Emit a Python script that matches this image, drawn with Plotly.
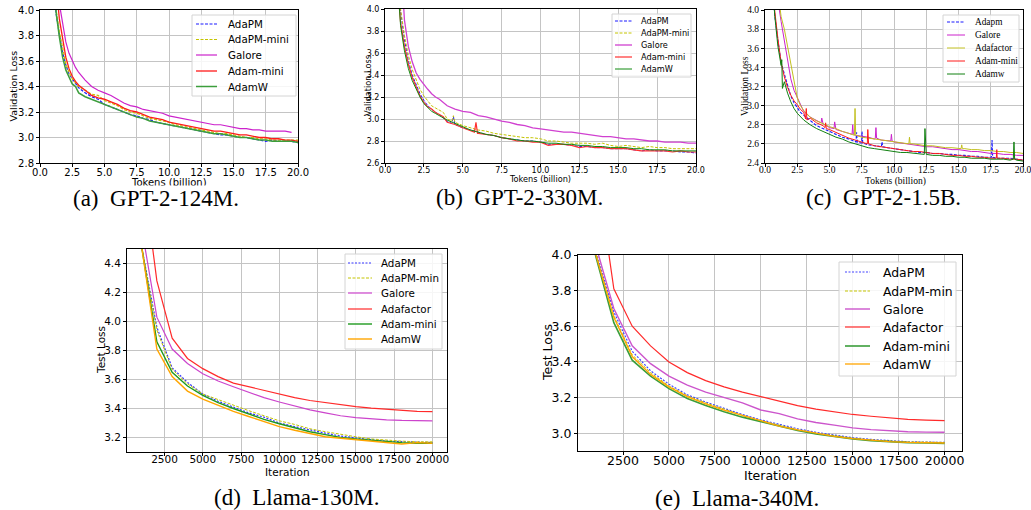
import plotly.graph_objects as go

W, H = 1031, 510

# ----------------------------- DATA -----------------------------
# (a) GPT-2-124M
TOK_A = [1.0, 1.25, 1.5, 1.75, 2.0, 2.25, 2.5, 2.75, 3.0, 3.5, 4.0, 4.5, 5.0, 5.5, 6.0, 6.5, 7.0, 7.5,
         8.0, 8.5, 9.0, 9.5, 10.0, 10.5, 11.0, 11.5, 12.0, 12.5, 13.0, 13.5, 14.0, 14.5, 15.0, 15.5,
         16.0, 16.5, 17.0, 17.5, 18.0, 18.5, 19.0, 19.5, 20.0]
A_ADAPM = [4.25, 3.97, 3.81, 3.67, 3.57, 3.50, 3.46, 3.42, 3.39, 3.35, 3.32, 3.30, 3.26, 3.24, 3.22, 3.20,
           3.18, 3.17, 3.15, 3.14, 3.12, 3.11, 3.10, 3.09, 3.08, 3.07, 3.06, 3.05, 3.04, 3.03, 3.02, 3.02,
           3.01, 3.00, 3.00, 2.99, 2.98, 2.97, 2.98, 2.97, 2.97, 2.97, 2.96]
A_ADAPM_MINI = [4.30, 4.00, 3.83, 3.69, 3.58, 3.51, 3.46, 3.43, 3.40, 3.37, 3.34, 3.33, 3.29, 3.27, 3.25,
                3.22, 3.20, 3.19, 3.17, 3.15, 3.14, 3.13, 3.12, 3.10, 3.09, 3.08, 3.07, 3.06, 3.05, 3.04,
                3.03, 3.03, 3.02, 3.01, 3.00, 3.00, 2.99, 2.99, 2.98, 2.98, 2.98, 2.98, 2.98]
A_GALORE = [4.80, 4.30, 4.05, 3.88, 3.75, 3.66, 3.60, 3.55, 3.51, 3.45, 3.40, 3.37, 3.35, 3.33, 3.30, 3.27,
            3.25, 3.24, 3.22, 3.21, 3.20, 3.19, 3.17, 3.16, 3.15, 3.14, 3.13, 3.12, 3.11, 3.10, 3.10, 3.09,
            3.08, 3.07, 3.07, 3.06, 3.06, 3.05, 3.05, 3.05, 3.05, 3.04, None]
A_ADAM_MINI = [4.60, 4.20, 3.93, 3.76, 3.63, 3.54, 3.48, 3.44, 3.41, 3.37, 3.33, 3.31, 3.30, 3.28, 3.26,
               3.23, 3.21, 3.20, 3.18, 3.16, 3.15, 3.14, 3.12, 3.11, 3.10, 3.09, 3.08, 3.07, 3.06, 3.05,
               3.05, 3.04, 3.03, 3.02, 3.02, 3.01, 3.00, 3.00, 2.99, 2.99, 2.98, 2.98, 2.97]
A_ADAMW = [4.30, 3.98, 3.79, 3.63, 3.53, 3.47, 3.42, 3.40, 3.35, 3.32, 3.30, 3.28, 3.26, 3.24, 3.22, 3.20,
           3.18, 3.16, 3.15, 3.13, 3.12, 3.11, 3.10, 3.09, 3.08, 3.07, 3.06, 3.05, 3.04, 3.03, 3.03, 3.02,
           3.01, 3.00, 3.00, 2.99, 2.98, 2.98, 2.97, 2.97, 2.97, 2.97, 2.96]

# (b) GPT-2-330M
TOK_B = [0.75, 1.0, 1.25, 1.5, 1.75, 2.0, 2.25, 2.5, 2.75, 3.0, 3.25, 3.5, 3.75, 4.0, 4.5, 5.0, 5.5, 6.0,
         6.5, 7.0, 7.5, 8.0, 8.5, 9.0, 9.5, 10.0, 10.5, 11.0, 11.5, 12.0, 12.5, 13.0, 13.5, 14.0, 14.5,
         15.0, 15.5, 16.0, 16.5, 17.0, 17.5, 18.0, 18.5, 19.0, 19.5, 20.0]
B_ADAPM = [4.50, 3.98, 3.72, 3.53, 3.40, 3.31, 3.23, 3.17, 3.12, 3.09, 3.06, 3.04, 3.01, 2.98, 2.95, 2.92,
           2.90, 2.88, 2.86, 2.85, 2.83, 2.82, 2.81, 2.80, 2.80, 2.79, 2.77, 2.77, 2.77, 2.76, 2.75, 2.75,
           2.74, 2.74, 2.73, 2.73, 2.73, 2.72, 2.71, 2.72, 2.71, 2.71, 2.71, 2.70, 2.70, 2.69]
B_ADAPM_SPIKE_X = [4.3, 4.4]
B_ADAPM_SPIKE_Y = [2.96, 3.02]
B_ADAPM_MINI = [4.50, 4.00, 3.76, 3.58, 3.45, 3.35, 3.27, 3.21, 3.16, 3.12, 3.10, 3.08, 3.06, 3.00, 2.97,
                2.94, 2.92, 2.90, 2.89, 2.87, 2.86, 2.85, 2.84, 2.83, 2.83, 2.82, 2.80, 2.80, 2.79, 2.78,
                2.78, 2.78, 2.77, 2.78, 2.76, 2.75, 2.76, 2.75, 2.74, 2.75, 2.74, 2.74, 2.73, 2.73, 2.73, 2.73]
B_ADAPM_MINI_SPIKE_X = [4.3, 4.4]
B_ADAPM_MINI_SPIKE_Y = [2.98, 3.03]
B_GALORE = [5.00, 4.50, 3.90, 3.66, 3.52, 3.42, 3.36, 3.31, 3.27, 3.23, 3.20, 3.18, 3.15, 3.12, 3.09, 3.07,
            3.06, 3.03, 3.02, 3.00, 2.98, 2.97, 2.95, 2.94, 2.92, 2.91, 2.90, 2.89, 2.88, 2.88, 2.87, 2.86,
            2.85, 2.84, 2.84, 2.83, 2.82, 2.82, 2.81, 2.80, 2.80, 2.79, 2.79, 2.79, 2.78, 2.78]
B_ADAM_MINI = [4.30, 3.88, 3.66, 3.50, 3.38, 3.29, 3.21, 3.15, 3.11, 3.09, 3.06, 3.04, 3.02, 2.97, 2.95,
               2.92, 2.89, 2.87, 2.86, 2.85, 2.83, 2.82, 2.80, 2.80, 2.79, 2.79, 2.76, 2.77, 2.77, 2.76,
               2.74, 2.75, 2.74, 2.74, 2.73, 2.73, 2.73, 2.72, 2.71, 2.71, 2.71, 2.71, 2.70, 2.71, 2.70, 2.70]
B_ADAM_MINI_SPIKE_X = [5.75, 5.85, 5.95]
B_ADAM_MINI_SPIKE_Y = [2.88, 2.97, 2.87]
B_ADAMW = [4.40, 3.85, 3.62, 3.46, 3.35, 3.27, 3.20, 3.14, 3.10, 3.07, 3.05, 3.03, 3.01, 2.99, 2.96, 2.93,
           2.90, 2.88, 2.86, 2.85, 2.83, 2.82, 2.81, 2.80, 2.80, 2.79, 2.78, 2.78, 2.77, 2.77, 2.76, 2.76,
           2.75, 2.75, 2.74, 2.74, 2.74, 2.73, 2.73, 2.72, 2.72, 2.72, 2.71, 2.71, 2.71, 2.71]

# (c) GPT-2-1.5B
TOK_C = [0.6, 0.75, 1.0, 1.25, 1.5, 1.75, 2.0, 2.25, 2.5, 2.75, 3.0, 3.5, 4.0, 4.5, 5.0, 5.5, 6.0, 6.5,
         7.0, 7.5, 8.0, 8.5, 9.0, 9.5, 10.0, 10.5, 11.0, 11.5, 12.0, 12.5, 13.0, 13.5, 14.0, 14.5, 15.0,
         15.5, 16.0, 16.5, 17.0, 17.5, 18.0, 18.5, 19.0, 19.5, 20.0]
C_ADAPM = [4.30, 3.95, 3.68, 3.45, 3.33, 3.20, 3.10, 3.03, 2.98, 2.93, 2.90, 2.84, 2.79, 2.76, 2.73, 2.70,
           2.67, 2.65, 2.63, 2.61, 2.59, 2.58, 2.57, 2.56, 2.55, 2.54, 2.53, 2.52, 2.51, 2.51, 2.50, 2.50,
           2.49, 2.49, 2.48, 2.48, 2.47, 2.47, 2.46, 2.46, 2.45, 2.45, 2.45, 2.44, 2.43]
C_ADAPM_SPIKE_X = [7.05, 7.1, 7.15, 7.45, 7.52, 7.58, 9.02, 9.07, 9.12, 17.55, 17.6, 17.65]
C_ADAPM_SPIKE_Y = [2.62, 2.72, 2.62, 2.61, 2.73, 2.61, 2.57, 2.62, 2.57, 2.46, 2.64, 2.46]
C_GALORE = [None, 4.50, 4.10, 3.88, 3.68, 3.45, 3.28, 3.16, 3.08, 3.00, 2.94, 2.88, 2.84, 2.81, 2.77, 2.75,
            2.73, 2.71, 2.69, 2.68, 2.67, 2.65, 2.64, 2.63, 2.62, 2.61, 2.60, 2.59, 2.58, 2.57, 2.57, 2.56,
            2.55, 2.54, 2.54, 2.53, 2.52, 2.52, 2.51, 2.50, 2.50, 2.49, 2.49, 2.48, 2.48]
C_GALORE_SPIKE_X = [4.35, 4.4, 4.45, 5.35, 5.4, 5.45, 6.75, 6.8, 6.85, 8.55, 8.6, 8.65, 9.75, 9.8, 9.85]
C_GALORE_SPIKE_Y = [2.82, 2.87, 2.81, 2.76, 2.83, 2.75, 2.70, 2.80, 2.70, 2.66, 2.77, 2.66, 2.63, 2.70, 2.63]
C_ADAFACTOR = [None, None, 4.20, 3.93, 3.80, 3.62, 3.40, 3.22, 3.08, 3.00, 2.95, 2.88, 2.84, 2.81, 2.78,
               2.76, 2.73, 2.71, 2.69, 2.67, 2.66, 2.65, 2.64, 2.63, 2.62, 2.61, 2.60, 2.60, 2.59, 2.58,
               2.58, 2.57, 2.56, 2.56, 2.55, 2.55, 2.54, 2.54, 2.53, 2.53, 2.52, 2.52, 2.51, 2.51, 2.50]
C_ADAFACTOR_SPIKE_X = [6.93, 6.98, 7.03, 11.15, 11.2, 11.25, 15.2, 15.25, 15.3]
C_ADAFACTOR_SPIKE_Y = [2.69, 2.97, 2.69, 2.60, 2.67, 2.60, 2.55, 2.59, 2.55]
C_ADAM_MINI = [4.50, 4.00, 3.70, 3.45, 3.30, 3.19, 3.11, 3.05, 3.01, 2.96, 2.93, 2.87, 2.82, 2.79, 2.75,
               2.72, 2.69, 2.66, 2.64, 2.62, 2.60, 2.58, 2.57, 2.56, 2.55, 2.54, 2.53, 2.52, 2.52, 2.51,
               2.50, 2.50, 2.49, 2.48, 2.48, 2.47, 2.47, 2.46, 2.46, 2.45, 2.45, 2.45, 2.44, 2.44, 2.43]
C_ADAM_MINI_SPIKE_X = [3.15, 3.2, 3.25, 4.65, 4.7, 4.75, 7.93, 7.97, 8.03, 17.93, 17.97, 18.03]
C_ADAM_MINI_SPIKE_Y = [2.86, 2.97, 2.85, 2.77, 2.82, 2.76, 2.60, 2.75, 2.60, 2.45, 2.54, 2.45]
C_ADAMW = [4.30, 3.95, 3.62, 3.42, 3.25, 3.13, 3.04, 2.97, 2.92, 2.88, 2.85, 2.80, 2.76, 2.73, 2.70, 2.67,
           2.65, 2.62, 2.60, 2.58, 2.56, 2.55, 2.54, 2.53, 2.52, 2.51, 2.51, 2.50, 2.49, 2.49, 2.48, 2.48,
           2.47, 2.47, 2.46, 2.46, 2.45, 2.45, 2.45, 2.44, 2.44, 2.44, 2.43, 2.43, 2.42]
C_ADAMW_SPIKE_X = [1.3, 1.35, 12.35, 12.4, 12.45, 19.25, 19.3, 19.35]
C_ADAMW_SPIKE_Y = [3.48, 3.18, 2.49, 2.76, 2.49, 2.44, 2.62, 2.44]

# (d) Llama-130M and (e) Llama-340M
ITER = [1000, 2000, 3000, 4000, 5000, 6000, 7000, 8000, 9000, 10000, 11000, 12000, 13000, 14000, 15000,
        16000, 17000, 18000, 19000, 20000]
D_ADAPM = [4.52, 3.96, 3.68, 3.58, 3.50, 3.45, 3.41, 3.37, 3.34, 3.30, 3.275, 3.25, 3.23, 3.21, 3.195,
           3.185, 3.175, 3.17, 3.165, 3.165]
D_ADAPM_MIN = [4.52, 3.94, 3.67, 3.57, 3.50, 3.46, 3.42, 3.385, 3.35, 3.315, 3.29, 3.26, 3.24, 3.22,
               3.205, 3.19, 3.18, 3.175, 3.17, 3.17]
D_GALORE = [4.65, 4.03, 3.81, 3.71, 3.64, 3.59, 3.55, 3.51, 3.475, 3.445, 3.415, 3.39, 3.37, 3.35, 3.337,
            3.328, 3.322, 3.318, 3.316, 3.315]
D_ADAFACTOR = [5.10, 4.28, 3.885, 3.745, 3.675, 3.62, 3.575, 3.55, 3.52, 3.495, 3.475, 3.455, 3.44, 3.425,
               3.413, 3.402, 3.393, 3.387, 3.38, 3.378]
D_ADAM_MINI = [4.52, 3.86, 3.65, 3.555, 3.49, 3.44, 3.40, 3.36, 3.325, 3.295, 3.265, 3.24, 3.22, 3.20,
               3.19, 3.18, 3.17, 3.165, 3.16, 3.16]
D_ADAMW = [4.52, 3.81, 3.62, 3.52, 3.465, 3.42, 3.38, 3.345, 3.31, 3.275, 3.25, 3.225, 3.205, 3.195, 3.185,
           3.175, 3.165, 3.155, 3.165, 3.16]

E_ADAPM = [4.03, 3.68, 3.46, 3.35, 3.275, 3.215, 3.175, 3.14, 3.105, 3.075, 3.05, 3.025, 3.005, 2.99,
           2.975, 2.965, 2.958, 2.952, 2.95, 2.948]
E_ADAPM_MIN = [4.02, 3.66, 3.44, 3.34, 3.265, 3.21, 3.17, 3.135, 3.10, 3.07, 3.045, 3.02, 3.00, 2.985,
               2.972, 2.962, 2.955, 2.951, 2.95, 2.948]
E_GALORE = [4.06, 3.70, 3.49, 3.39, 3.32, 3.27, 3.23, 3.20, 3.17, 3.13, 3.11, 3.08, 3.06, 3.045, 3.03,
            3.02, 3.012, 3.008, 3.006, 3.005]
E_ADAFACTOR = [4.53, 3.81, 3.60, 3.49, 3.40, 3.34, 3.295, 3.26, 3.23, 3.205, 3.18, 3.155, 3.135, 3.12,
               3.105, 3.095, 3.085, 3.078, 3.073, 3.07]
E_ADAM_MINI = [4.00, 3.62, 3.41, 3.32, 3.25, 3.195, 3.155, 3.12, 3.09, 3.065, 3.04, 3.015, 2.995, 2.98,
               2.968, 2.958, 2.952, 2.947, 2.945, 2.943]
E_ADAMW = [4.01, 3.65, 3.43, 3.33, 3.26, 3.205, 3.165, 3.13, 3.10, 3.068, 3.04, 3.018, 2.998, 2.982, 2.97,
           2.96, 2.953, 2.948, 2.946, 2.945]

CAPTIONS = ["(a)\u2002GPT-2-124M.", "(b)\u2002GPT-2-330M.", "(c)\u2002GPT-2-1.5B.",
            "(d)\u2002Llama-130M.", "(e)\u2002Llama-340M."]
X_TITLES = ["Tokens (billion)", "Tokens (billion)", "Tokens (billion)", "Iteration", "Iteration"]
Y_TITLES = ["Validation Loss", "Validation Loss", "Validation Loss", "Test Loss", "Test Loss"]


def merged(xs, ys, sx=None, sy=None):
    pts = [(x, y) for x, y in zip(xs, ys)]
    if sx:
        pts += list(zip(sx, sy))
    pts.sort(key=lambda p: p[0])
    return [p[0] for p in pts], [p[1] for p in pts]


# ----------------------------- LAYOUT -----------------------------
SANS = "DejaVu Sans"
SERIF = "Liberation Serif"
GRID = "#c4c4c4"

# pixel boxes of the five plot areas: (left, right, top, bottom)
BOX = {
    1: (40, 298, 10, 163),
    2: (385, 696, 9, 163),
    3: (765, 1023, 10, 163),
    4: (127, 447, 249, 452),
    5: (578, 962, 255, 451),
}

BLUE, YEL, MAG, RED, ORG = "#1a1aff", "#c4c400", "#cc22cc", "#ff1a1a", "#ffa500"

series = {
    1: [("AdaPM", TOK_A, A_ADAPM, None, None, dict(color=BLUE, width=1.2, dash="3px,1.5px")),
        ("AdaPM-mini", TOK_A, A_ADAPM_MINI, None, None, dict(color=YEL, width=1.2, dash="3px,1.5px")),
        ("Galore", TOK_A, A_GALORE, None, None, dict(color=MAG, width=1.2)),
        ("Adam-mini", TOK_A, A_ADAM_MINI, None, None, dict(color=RED, width=1.3)),
        ("AdamW", TOK_A, A_ADAMW, None, None, dict(color="#3c9e3c", width=1.5))],
    2: [("AdaPM", TOK_B, B_ADAPM, B_ADAPM_SPIKE_X, B_ADAPM_SPIKE_Y, dict(color=BLUE, width=1.0, dash="3px,1.5px")),
        ("AdaPM-mini", TOK_B, B_ADAPM_MINI, B_ADAPM_MINI_SPIKE_X, B_ADAPM_MINI_SPIKE_Y,
         dict(color=YEL, width=1.0, dash="3px,1.5px")),
        ("Galore", TOK_B, B_GALORE, None, None, dict(color="#d040d0", width=1.3)),
        ("Adam-mini", TOK_B, B_ADAM_MINI, B_ADAM_MINI_SPIKE_X, B_ADAM_MINI_SPIKE_Y, dict(color="#ff3030", width=1.2)),
        ("AdamW", TOK_B, B_ADAMW, None, None, dict(color="#108a10", width=1.0))],
    3: [("Adapm", TOK_C, C_ADAPM, C_ADAPM_SPIKE_X, C_ADAPM_SPIKE_Y, dict(color=BLUE, width=1.1, dash="3px,1.5px")),
        ("Galore", TOK_C, C_GALORE, C_GALORE_SPIKE_X, C_GALORE_SPIKE_Y, dict(color=MAG, width=1.0)),
        ("Adafactor", TOK_C, C_ADAFACTOR, C_ADAFACTOR_SPIKE_X, C_ADAFACTOR_SPIKE_Y, dict(color="#c2c020", width=1.0)),
        ("Adam-mini", TOK_C, C_ADAM_MINI, C_ADAM_MINI_SPIKE_X, C_ADAM_MINI_SPIKE_Y, dict(color=RED, width=1.0)),
        ("Adamw", TOK_C, C_ADAMW, C_ADAMW_SPIKE_X, C_ADAMW_SPIKE_Y, dict(color="#108010", width=1.0))],
    4: [("AdaPM", ITER, D_ADAPM, None, None, dict(color="#3333ff", width=1.2, dash="2px,1.5px")),
        ("AdaPM-min", ITER, D_ADAPM_MIN, None, None, dict(color=YEL, width=1.0, dash="3px,1.5px")),
        ("Galore", ITER, D_GALORE, None, None, dict(color="#cc44cc", width=1.2)),
        ("Adafactor", ITER, D_ADAFACTOR, None, None, dict(color="#ff2a2a", width=1.2)),
        ("Adam-mini", ITER, D_ADAM_MINI, None, None, dict(color="#1f9a1f", width=1.4)),
        ("AdamW", ITER, D_ADAMW, None, None, dict(color=ORG, width=1.4))],
    5: [("AdaPM", ITER, E_ADAPM, None, None, dict(color="#4444ff", width=1.2, dash="2px,1.5px")),
        ("AdaPM-min", ITER, E_ADAPM_MIN, None, None, dict(color=YEL, width=1.0, dash="3px,1.5px")),
        ("Galore", ITER, E_GALORE, None, None, dict(color="#cc55cc", width=1.4)),
        ("Adafactor", ITER, E_ADAFACTOR, None, None, dict(color="#ff2a2a", width=1.2)),
        ("Adam-mini", ITER, E_ADAM_MINI, None, None, dict(color="#3a9e3a", width=1.6)),
        ("AdamW", ITER, E_ADAMW, None, None, dict(color=ORG, width=1.3))],
}

AXES = {
    1: dict(xr=[0, 20], yr=[2.8, 4.0], xd=2.5, yd=0.2, xfmt=".1f", yfmt=".1f", font=SANS, tick=10, so=-3),
    2: dict(xr=[0, 20], yr=[2.6, 4.0], xd=2.5, yd=0.2, xfmt=".1f", yfmt=".1f", font=SANS, tick=8, so=-4),
    3: dict(xr=[0, 20], yr=[2.4, 4.0], xd=2.5, yd=0.2, xfmt=".1f", yfmt=".1f", font=SERIF, tick=9.5, so=-5),
    4: dict(xr=[50, 20950], yr=[3.1, 4.5], xd=2500, yd=0.2, xfmt="d", yfmt=".1f", font=SANS, tick=10.5, so=-6),
    5: dict(xr=[50, 20950], yr=[2.9, 4.0], xd=2500, yd=0.2, xfmt="d", yfmt=".1f", font=SANS, tick=12.5, so=-5),
}

# legend geometry: box (l, t, r, b), line x0/x1, text x, entry ys, font, size
LEG = {
    1: dict(box=(192, 15, 296, 96), lx=(196, 217), tx=226, ys=[24, 39.5, 55, 71, 86.5], font=SANS, size=10.3),
    2: dict(box=(612, 14, 691, 77), lx=(615, 632), tx=639, ys=[21, 33, 45, 57, 69], font=SANS, size=8.2),
    3: dict(box=(943, 15, 1019, 82), lx=(947, 965), tx=973, ys=[22, 35, 48, 61, 74], font=SERIF, size=9.3),
    4: dict(box=(345, 254, 442, 349), lx=(348, 372), tx=379, ys=[263, 278, 293, 309, 324, 339], font=SANS, size=10.3),
    5: dict(box=(839, 262, 956, 376), lx=(845, 870), tx=881, ys=[272, 291, 309, 327, 346, 364], font=SANS, size=12.4),
}

# caption / axis-title positions (pixels)
CAP_POS = {1: (156, 199), 2: (519, 198), 3: (883, 198), 4: (296, 497), 5: (737, 498)}
XT_POS = {1: (169, 182, 10), 2: (540, 179, 8.2), 3: (895, 181, 9.5), 4: (287, 472, 10.5), 5: (770, 475, 12.5)}
YT_POS = {1: (12.5, 86, 9.5), 2: (368, 86, 8.2), 3: (745, 86, 9.5), 4: (101, 350, 10.5), 5: (547, 353, 12.5)}


def px(x):
    return x / W


def py(y):
    return 1 - y / H


fig = go.Figure()
layout = dict(width=W, height=H, margin=dict(l=0, r=0, t=0, b=0), autosize=False,
              paper_bgcolor="white", plot_bgcolor="white", showlegend=False)

shapes, annotations = [], []

for k in range(1, 6):
    l, r, t, b = BOX[k]
    ax = AXES[k]
    sx = "" if k == 1 else str(k)
    common = dict(showline=True, mirror=True, linecolor="black", linewidth=1, ticks="outside",
                  ticklen=3, tickwidth=1, tickcolor="black", showgrid=True, gridcolor=GRID, gridwidth=1.2,
                  zeroline=False, automargin=False, ticklabeloverflow="allow",
                  tickfont=dict(family=ax["font"], size=ax["tick"], color="black"))
    layout["xaxis" + sx] = dict(common, domain=[px(l), px(r)], range=ax["xr"], dtick=ax["xd"],
                                tick0=0, tickformat=ax["xfmt"], anchor="y" + sx, ticklabelstandoff=ax["so"])
    layout["yaxis" + sx] = dict(common, domain=[py(b), py(t)], range=ax["yr"], dtick=ax["yd"],
                                tick0=0, tickformat=ax["yfmt"], anchor="x" + sx)
    for name, xs, ys, spx, spy, style in series[k]:
        xx, yy = merged(xs, ys, spx, spy)
        fig.add_trace(go.Scatter(x=xx, y=yy, mode="lines", name=name, line=style,
                                 xaxis="x" + sx, yaxis="y" + sx, hoverinfo="skip", connectgaps=False))

    # axis titles
    xt = XT_POS[k]
    annotations.append(dict(text=X_TITLES[k - 1], x=px(xt[0]), y=py(xt[1]), xref="paper", yref="paper",
                            showarrow=False, xanchor="center", yanchor="middle",
                            font=dict(family=ax["font"], size=xt[2], color="black")))
    yt = YT_POS[k]
    annotations.append(dict(text=Y_TITLES[k - 1], x=px(yt[0]), y=py(yt[1]), xref="paper", yref="paper",
                            showarrow=False, xanchor="center", yanchor="middle", textangle=-90,
                            font=dict(family=ax["font"], size=yt[2], color="black")))

    # legend (matplotlib style)
    lg = LEG[k]
    bl, bt, br, bb = lg["box"]
    shapes.append(dict(type="rect", xref="paper", yref="paper", x0=px(bl), x1=px(br), y0=py(bb), y1=py(bt),
                       fillcolor="rgba(255,255,255,0.85)", line=dict(color="#d4d4d4", width=1), layer="above"))
    for (name, xs, ys, spx, spy, style), yy in zip(series[k], lg["ys"]):
        shapes.append(dict(type="line", xref="paper", yref="paper", x0=px(lg["lx"][0]), x1=px(lg["lx"][1]),
                           y0=py(yy), y1=py(yy), line=style, layer="above"))
        annotations.append(dict(text=name, x=px(lg["tx"]), y=py(yy), xref="paper", yref="paper",
                                showarrow=False, xanchor="left", yanchor="middle",
                                font=dict(family=lg["font"], size=lg["size"], color="black")))

# captions last (on top); (a) caption hides the lower part of its axis title
for k in range(1, 6):
    cx, cy = CAP_POS[k]
    annotations.append(dict(text=CAPTIONS[k - 1], x=px(cx), y=py(cy), xref="paper", yref="paper",
                            showarrow=False, xanchor="center", yanchor="middle",
                            bgcolor="white" if k == 1 else None, borderpad=0,
                            font=dict(family=SERIF, size=23, color="black")))

layout["shapes"] = shapes
layout["annotations"] = annotations
fig.update_layout(**layout)
fig.write_html("out.html", config={"displayModeBar": False},
               post_script="document.body.style.margin='0';document.body.style.padding='0';")
